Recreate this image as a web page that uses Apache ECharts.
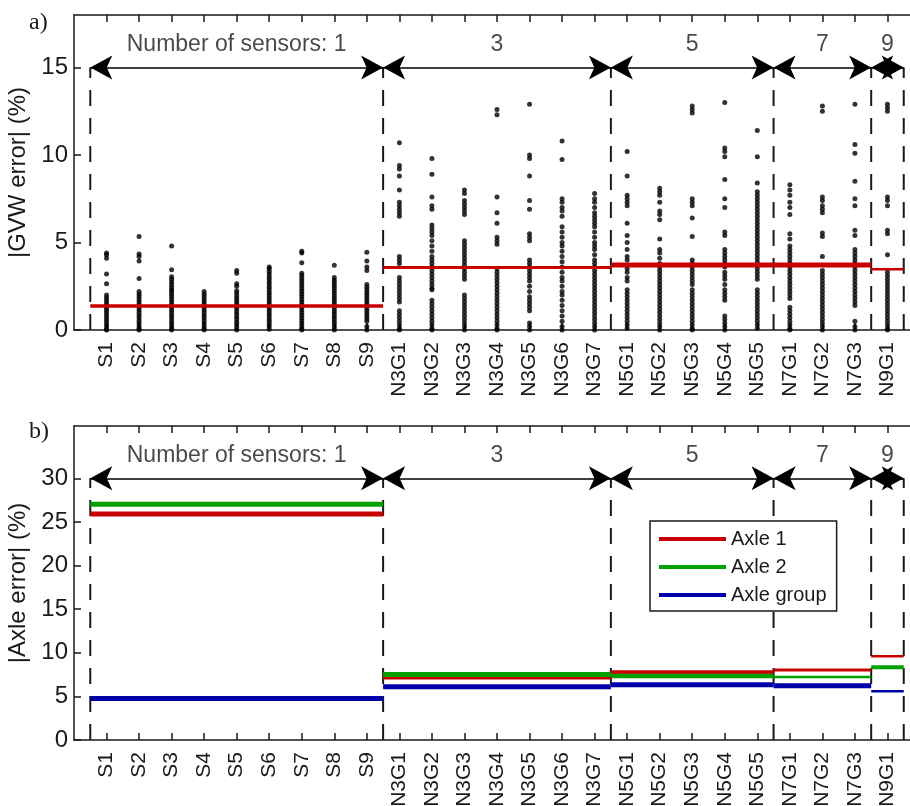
<!DOCTYPE html>
<html><head><meta charset="utf-8">
<script src="https://cdn.jsdelivr.net/npm/echarts@6/dist/echarts.min.js"></script>
<style>html,body{margin:0;padding:0;background:#fff}#c{width:910px;height:806px}</style>
</head><body><div id="c"></div>
<script>
// ---------- data ----------
const categories = ['S1','S2','S3','S4','S5','S6','S7','S8','S9',
  'N3G1','N3G2','N3G3','N3G4','N3G5','N3G6','N3G7',
  'N5G1','N5G2','N5G3','N5G4','N5G5','N7G1','N7G2','N7G3','N9G1'];

// |GVW error| (%) points per configuration
const pS1 = [4.4,4.3,4.1,3.2,2.65,2.0,1.85,1.7,1.55,1.4,1.25,1.1,0.95,0.8,0.65,0.5,0.35,0.2,0.05,0];
const pS2 = [5.35,4.35,4.2,3.95,2.95,2.2,2.05,1.9,1.75,1.6,1.45,1.3,1.15,1.0,0.85,0.7,0.55,0.4,0.25,0.1,0];
const pS3 = [4.8,3.45,3.05,2.9,2.75,2.6,2.45,2.3,2.2,2.05,1.9,1.75,1.6,1.45,1.3,1.15,1.0,0.85,0.7,0.55,0.4,0.25,0.1,0];
const pS4 = [2.2,2.05,1.9,1.75,1.6,1.45,1.3,1.15,1.0,0.85,0.7,0.55,0.4,0.25,0.1,0];
const pS5 = [3.4,3.25,2.65,2.5,2.25,2.1,1.95,1.8,1.65,1.5,1.35,1.2,1.05,0.9,0.75,0.6,0.45,0.3,0.15,0];
const pS6 = [3.6,3.5,3.35,3.2,3.05,2.9,2.75,2.6,2.45,2.3,2.15,2.0,1.85,1.7,1.55,1.4,1.25,1.1,0.95,0.8,0.65,0.5,0.35,0.2,0.05];
const pS7 = [4.5,4.4,3.85,3.25,3.1,2.95,2.8,2.65,2.5,2.35,2.2,2.05,1.9,1.75,1.6,1.45,1.3,1.15,1.0,0.85,0.7,0.55,0.4,0.25,0.1,0];
const pS8 = [3.7,3.0,2.85,2.7,2.55,2.4,2.25,2.1,1.95,1.8,1.65,1.5,1.35,1.2,1.05,0.9,0.75,0.6,0.45,0.3,0.15,0];
const pS9 = [4.45,3.95,3.6,3.4,2.6,2.45,2.3,2.15,2.0,1.85,1.7,1.55,1.4,1.25,1.1,0.95,0.8,0.65,0.5,0.2,0];
const pN3G1 = [10.7,9.4,9.2,8.8,8.0,7.3,7.1,6.9,6.7,6.5,4.2,4.0,3.8,3.0,2.8,2.6,2.4,2.2,2.0,1.8,1.6,1.1,0.9,0.7,0.5,0.3,0.1,0];
const pN3G2 = [9.8,8.9,7.6,7.1,6.9,6.0,5.8,5.6,5.4,5.1,4.8,4.5,4.2,4.0,3.8,3.6,3.4,3.2,3.0,2.8,2.6,2.4,2.3,1.7,1.5,1.3,1.1,0.9,0.7,0.5,0.3,0.1,0];
const pN3G3 = [8.0,7.8,7.4,7.2,7.0,6.8,6.6,5.1,4.9,4.7,4.5,4.3,4.1,3.9,3.7,3.5,3.3,3.1,2.9,2.0,1.8,1.6,1.4,1.2,1.0,0.8,0.6,0.4,0.2,0];
const pN3G4 = [12.6,12.3,7.6,6.7,6.1,5.3,5.1,4.9,3.5,3.3,3.1,2.9,2.7,2.5,2.3,2.1,1.9,1.7,1.5,1.3,1.1,0.9,0.7,0.5,0.3,0.1,0];
const pN3G5 = [12.9,10.0,9.8,8.8,7.4,6.9,5.5,5.3,5.1,4.0,3.8,3.6,3.4,3.2,3.0,2.8,2.5,2.2,1.9,1.7,1.5,1.3,1.1,0.4,0.2,0];
const pN3G6 = [10.8,9.75,7.5,7.3,7.0,6.8,6.5,5.9,5.6,5.3,5.0,4.8,4.5,4.2,3.9,3.6,3.3,3.0,2.8,2.5,2.2,2.0,1.7,1.4,1.1,0.8,0.5,0.2,0];
const pN3G7 = [7.8,7.5,7.3,7.0,6.7,6.5,6.3,6.1,5.9,5.6,5.3,5.0,4.8,4.6,4.3,4.0,3.8,3.6,3.4,3.2,3.0,2.8,2.6,2.4,2.2,2.0,1.8,1.6,1.4,1.2,1.0,0.8,0.6,0.4,0.2,0];
const pN5G1 = [10.2,8.8,7.7,7.5,7.3,7.1,6.1,5.4,5.0,4.6,4.2,4.0,3.7,3.5,3.3,3.0,2.8,2.3,2.1,1.9,1.7,1.5,1.3,1.1,0.9,0.7,0.5,0.3,0.1];
const pN5G2 = [8.1,7.9,7.7,7.3,6.8,6.6,6.3,5.2,4.6,4.4,4.1,3.8,3.6,3.4,3.2,3.0,2.8,2.6,2.4,2.2,2.0,1.8,1.6,1.4,1.2,1.0,0.8,0.6,0.4,0.2,0];
const pN5G3 = [12.8,12.6,12.4,7.5,7.3,7.1,6.4,5.35,4.0,3.8,3.6,3.4,3.2,3.0,2.8,2.6,2.3,2.1,1.9,1.7,1.5,1.3,1.1,0.9,0.7,0.5,0.3,0.1,0];
const pN5G4 = [13.0,10.4,10.2,9.9,8.6,7.5,7.0,5.6,5.4,4.6,4.4,4.2,4.0,3.8,3.6,3.3,3.1,2.9,2.6,2.3,2.1,1.9,1.7,0.8,0.6,0.4,0.2,0];
const pN5G5 = [11.4,9.9,8.4,7.9,7.7,7.5,7.3,7.1,6.9,6.7,6.5,6.3,6.1,5.9,5.7,5.5,5.3,5.1,4.9,4.7,4.5,4.3,4.1,3.9,3.7,3.5,3.3,3.1,2.9,2.3,2.1,1.9,1.7,1.5,1.3,1.1,0.9,0.7,0.5,0.3,0.1];
const pN7G1 = [8.3,8.0,7.7,7.3,7.0,6.6,5.5,5.2,4.8,4.6,4.4,4.2,4.0,3.8,3.6,3.4,3.2,3.0,2.8,2.6,2.4,2.2,2.0,1.8,1.3,1.1,0.9,0.7,0.5,0.3,0.1,0];
const pN7G2 = [12.8,12.5,7.6,7.4,7.1,6.9,6.7,5.55,5.35,4.2,3.4,3.2,3.0,2.8,2.6,2.4,2.2,2.0,1.8,1.6,1.4,1.2,1.0,0.8,0.6,0.4,0.2,0];
const pN7G3 = [12.9,10.6,10.1,8.5,7.5,7.1,5.7,5.4,4.6,4.4,4.2,4.0,3.8,3.6,3.4,3.2,3.0,2.8,2.6,2.4,2.2,2.0,1.8,1.6,1.4,0.5,0.2,0];
const pN9G1 = [12.9,12.7,12.5,7.6,7.4,7.1,5.7,5.5,4.3,3.3,3.1,2.9,2.7,2.5,2.3,2.1,1.9,1.7,1.5,1.3,1.1,0.9,0.7,0.5,0.3,0.1,0];
const gvwPoints = [pS1,pS2,pS3,pS4,pS5,pS6,pS7,pS8,pS9,pN3G1,pN3G2,pN3G3,pN3G4,pN3G5,pN3G6,pN3G7,
  pN5G1,pN5G2,pN5G3,pN5G4,pN5G5,pN7G1,pN7G2,pN7G3,pN9G1];

// sensor-count groups
const groupBounds = [0.5, 9.5, 16.5, 21.5, 24.5, 25.5];
const groupLabels = ['Number of sensors: 1', '3', '5', '7', '9'];
const gvwMean   = [1.37, 3.57, 3.72, 3.72, 3.47];
const axle1     = [25.9, 7.07, 7.80, 8.03, 9.61];
const axle2     = [27.04, 7.50, 7.38, 7.22, 8.35];
const axleGroup = [4.75, 6.10, 6.34, 6.23, 5.60];

// tick labels
const yTicksTop = [0, 5, 10, 15];
const yTicksBottom = [0, 5, 10, 15, 20, 25, 30];
const arrowLevelTop = 15, labelLevelTop = 16.3;
const arrowLevelBottom = 30, labelLevelBottom = 32.6;

// ---------- styles ----------
const FONT = 'Liberation Sans';
const INK = '#1a1a1a';
const RED = '#c80000', GREEN = '#00a000', BLUE = '#0000a8';
const meanWidths = [3.5, 3, 5, 5, 2.5];
const a1Widths = [5, 2.5, 3.5, 3, 2.5];
const a2Widths = [5, 5, 5, 2.5, 4];
const agWidths = [5, 5, 5, 5, 2.5];

const tickPos = categories.map((_, i) => i + 1);

function xAx(gridIndex, pos, labels) {
  return {
    type: 'value', gridIndex, position: pos, min: 0, max: 26,
    axisLine: { show: true, onZero: false, lineStyle: { color: INK, width: 1.5 } },
    axisTick: { show: true, inside: true, length: 7, customValues: tickPos, lineStyle: { color: INK, width: 1.5 } },
    axisLabel: labels ? {
      show: true, rotate: 90, margin: 12, fontSize: 21, fontFamily: FONT, color: INK,
      customValues: tickPos, formatter: v => categories[Math.round(v) - 1] || ''
    } : { show: false },
    splitLine: { show: false }
  };
}
function yAx(gridIndex, max, ticks, name) {
  return {
    type: 'value', gridIndex, position: 'left', min: 0, max: max,
    name: name, nameLocation: 'middle', nameGap: 39,
    nameTextStyle: { fontSize: 24, fontFamily: FONT, color: INK },
    axisLine: { show: true, onZero: false, lineStyle: { color: INK, width: 1.5 } },
    axisTick: { show: true, inside: true, length: 7, customValues: ticks, lineStyle: { color: INK, width: 1.5 } },
    axisLabel: { show: true, margin: 6, fontSize: 24, fontFamily: FONT, color: INK, customValues: ticks },
    splitLine: { show: false }
  };
}

const series = [];
// scatter points
const scatterData = [];
gvwPoints.forEach((arr, i) => arr.forEach(v => scatterData.push([i + 1, v])));
series.push({
  type: 'scatter', xAxisIndex: 0, yAxisIndex: 0, data: scatterData,
  symbol: 'circle', symbolSize: 5, itemStyle: { color: '#000' }, silent: true, z: 3
});

function seg(xi, yi, x0, x1, v, color, width, name, z) {
  return {
    type: 'line', name: name, xAxisIndex: xi, yAxisIndex: yi, data: [[x0, v], [x1, v]],
    symbol: 'none', lineStyle: { color, width, cap: 'butt' }, itemStyle: { color },
    silent: true, z: z || 4
  };
}

for (let g = 0; g < groupLabels.length; g++) {
  const x0 = groupBounds[g], x1 = groupBounds[g + 1];
  series.push(seg(0, 0, x0, x1, gvwMean[g], RED, meanWidths[g], 'mean', 5));
  series.push(seg(2, 1, x0, x1, axleGroup[g], BLUE, agWidths[g], 'Axle group', 5));
  series.push(seg(2, 1, x0, x1, axle2[g], GREEN, a2Widths[g], 'Axle 2', 5));
  series.push(seg(2, 1, x0, x1, axle1[g], RED, a1Widths[g], 'Axle 1', 6));
}

// dashed separators
[[0, 0, arrowLevelTop], [2, 1, arrowLevelBottom]].forEach(([xi, yi, top]) => {
  groupBounds.forEach(b => {
    series.push({
      type: 'line', xAxisIndex: xi, yAxisIndex: yi, data: [[b, 0], [b, top]],
      symbol: 'none', silent: true, z: 2,
      lineStyle: { color: INK, width: 2, type: [16, 12] }
    });
  });
});

// double arrows and group labels
[[0, 0, arrowLevelTop, labelLevelTop], [2, 1, arrowLevelBottom, labelLevelBottom]].forEach(([xi, yi, lvl, lab]) => {
  const mlData = [];
  for (let g = 0; g < groupLabels.length; g++) {
    mlData.push([{ coord: [groupBounds[g], lvl] }, { coord: [groupBounds[g + 1], lvl] }]);
  }
  series.push({
    type: 'line', xAxisIndex: xi, yAxisIndex: yi, data: [], silent: true, z: 7,
    markLine: {
      silent: true, animation: false, symbol: ['arrow', 'arrow'], symbolSize: [18, 22],
      label: { show: false }, lineStyle: { color: '#000', width: 1.5, type: 'solid' },
      itemStyle: { color: '#000' }, emphasis: { disabled: true },
      data: mlData
    }
  });
  series.push({
    type: 'scatter', xAxisIndex: xi, yAxisIndex: yi, silent: true, symbolSize: 0,
    itemStyle: { color: 'rgba(0,0,0,0)' },
    data: groupLabels.map((t, g) => ({
      value: [(groupBounds[g] + groupBounds[g + 1]) / 2, lab],
      label: { formatter: t }
    })),
    label: { show: true, position: 'inside', fontSize: 23, fontFamily: FONT, color: INK }
  });
});

const option = {
  animation: false,
  backgroundColor: '#fff',
  grid: [
    { left: 74, top: 15, right: -10, height: 315, outerBoundsMode: 'none', containLabel: false },
    { left: 74, top: 426, right: -10, height: 314, outerBoundsMode: 'none', containLabel: false }
  ],
  xAxis: [xAx(0, 'bottom', true), xAx(0, 'top', false), xAx(1, 'bottom', true), xAx(1, 'top', false)],
  yAxis: [yAx(0, 18, yTicksTop, '|GVW error| (%)'), yAx(1, 36, yTicksBottom, '|Axle error| (%)')],
  legend: {
    left: 650, top: 521, orient: 'vertical',
    backgroundColor: '#fff', borderColor: INK, borderWidth: 1.5,
    padding: [8, 10, 6, 9], itemWidth: 67, itemHeight: 4, itemGap: 8,
    textStyle: { fontSize: 20, fontFamily: FONT, color: INK, lineHeight: 20 },
    data: [
      { name: 'Axle 1', icon: 'rect', itemStyle: { color: RED } },
      { name: 'Axle 2', icon: 'rect', itemStyle: { color: GREEN } },
      { name: 'Axle group', icon: 'rect', itemStyle: { color: BLUE } }
    ]
  },
  graphic: [
    { type: 'text', left: 29, top: 11, style: { text: 'a)', font: '24px "Liberation Serif"', fill: INK } },
    { type: 'text', left: 29, top: 420, style: { text: 'b)', font: '24px "Liberation Serif"', fill: INK } },
    // keep the strip right of the last separator empty, as in the source figure
    { type: 'rect', z: 100, silent: true, shape: { x: 906, y: 17, width: 4, height: 311 }, style: { fill: '#fff' } },
    { type: 'rect', z: 100, silent: true, shape: { x: 906, y: 428, width: 4, height: 310 }, style: { fill: '#fff' } }
  ],
  series
};
const chart = echarts.init(document.getElementById('c'), null, { renderer: 'canvas' });
chart.setOption(option);
</script></body></html>
